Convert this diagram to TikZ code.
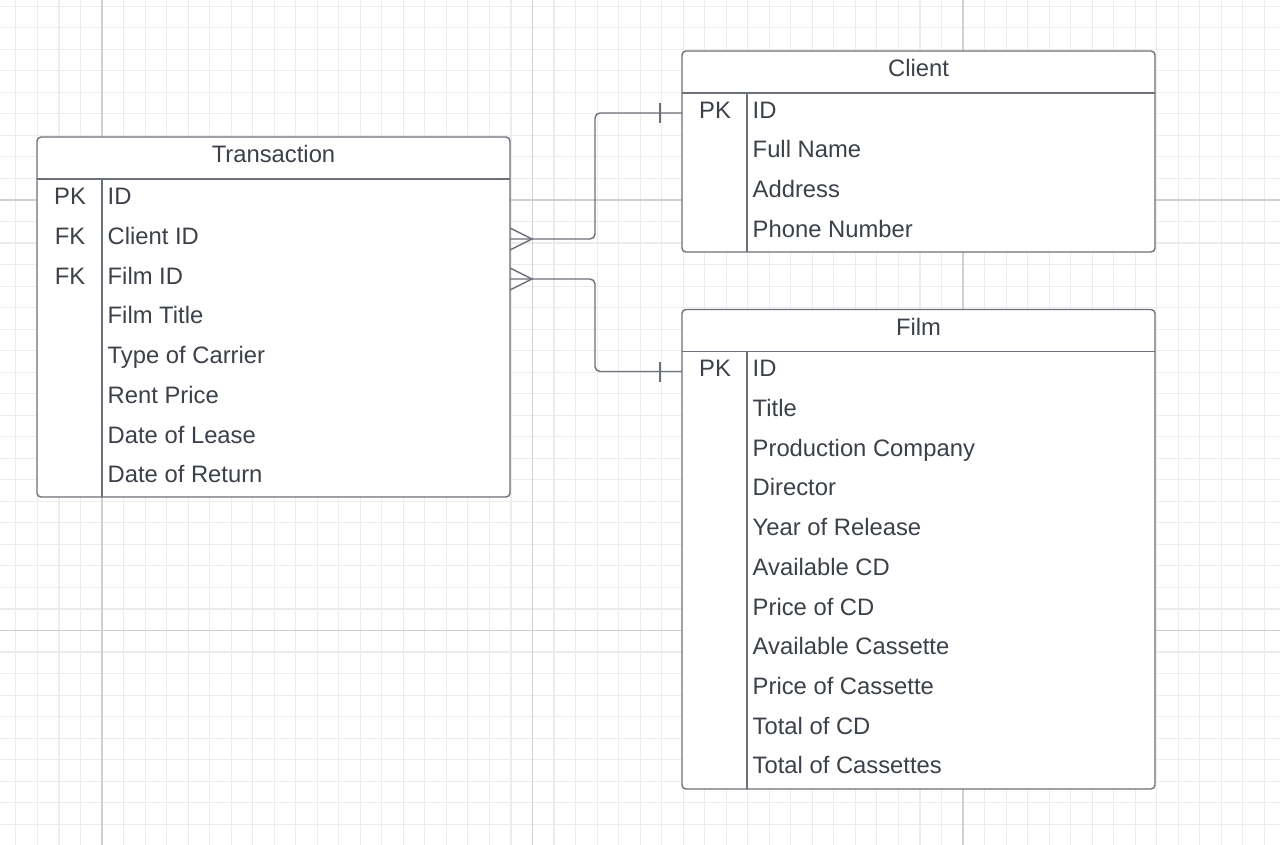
\documentclass[tikz,border=0pt]{standalone}
\usepackage{fontspec}
\setmainfont{Liberation Sans}
\definecolor{txt}{RGB}{60,64,72}
\definecolor{edge}{RGB}{108,112,120}
\definecolor{gridminor}{RGB}{236,236,236}
\definecolor{gridmajor}{RGB}{208,208,208}
\begin{document}
\begin{tikzpicture}[x=1pt,y=-1pt,
  tbl/.style={draw=edge, line width=1.4pt, fill=white, rounded corners=4pt, inner sep=0pt, outer sep=0pt, anchor=north west},
  sep/.style={draw=edge, line width=1.4pt},
  fld/.style={anchor=base west, inner sep=0pt, text=txt, font=\fontsize{23.8}{28}\selectfont},
  key/.style={anchor=base, inner sep=0pt, text=txt, font=\fontsize{23.8}{28}\selectfont},
  ttl/.style={anchor=base, inner sep=0pt, text=txt, font=\fontsize{23.8}{28}\selectfont},
  conn/.style={draw=edge, line width=1.4pt},
  gminor/.style={draw=gridminor, line width=1.1pt},
  gmajor/.style={draw=gridmajor, line width=1.6pt}]
\useasboundingbox (0,0) rectangle (1280,845);
\clip (0,0) rectangle (1280,845);
\fill[white] (0,0) rectangle (1280,845);
% grid
\foreach \k in {-4,...,55} \draw[gminor] ({102+21.525*\k},0) -- ({102+21.525*\k},845);
\foreach \k in {-9,...,31} \draw[gminor] (0,{200+21.525*\k}) -- (1280,{200+21.525*\k});
\foreach \gx in {102,532.5,963} \draw[gmajor] (\gx,0) -- (\gx,845);
\foreach \gy in {200,630.5} \draw[gmajor] (0,\gy) -- (1280,\gy);

% Transaction table
\node[tbl, minimum width=473pt, minimum height=360pt] (trans) at (37,137) {};
\draw[sep] ([yshift=-42pt]trans.north west) -- ([yshift=-42pt]trans.north east);
\draw[sep] ([xshift=65pt,yshift=-42pt]trans.north west) -- ([xshift=65pt]trans.south west);
\node[ttl] (trans-title) at (273.5,162.8) {Transaction};
\node[key] (trans-k0) at (70,204.5) {PK};
\node[key] (trans-k1) at (70,244.25) {FK};
\node[key] (trans-k2) at (70,284) {FK};
\foreach \t [count=\i from 0] in {ID,Client ID,Film ID,Film Title,Type of Carrier,Rent Price,Date of Lease,Date of Return}
  \node[fld] (trans-f\i) at (107.5,{204.5+39.75*\i}) {\t};

% Client table
\node[tbl, minimum width=473pt, minimum height=201pt] (client) at (682,51) {};
\draw[sep] ([yshift=-42pt]client.north west) -- ([yshift=-42pt]client.north east);
\draw[sep] ([xshift=65pt,yshift=-42pt]client.north west) -- ([xshift=65pt]client.south west);
\node[ttl] (client-title) at (918.5,76.8) {Client};
\node[key] (client-k0) at (715,118.5) {PK};
\foreach \t [count=\i from 0] in {ID,Full Name,Address,Phone Number}
  \node[fld] (client-f\i) at (752.5,{118.5+39.5*\i}) {\t};

% Film table
\node[tbl, minimum width=473pt, minimum height=479.5pt] (film) at (682,309.5) {};
\draw[sep] ([yshift=-42pt]film.north west) -- ([yshift=-42pt]film.north east);
\draw[sep] ([xshift=65pt,yshift=-42pt]film.north west) -- ([xshift=65pt]film.south west);
\node[ttl] (film-title) at (918.5,335.2) {Film};
\node[key] (film-k0) at (715,376.8) {PK};
\foreach \t [count=\i from 0] in {ID,Title,Production Company,Director,Year of Release,Available CD,Price of CD,Available Cassette,Price of Cassette,Total of CD,Total of Cassettes}
  \node[fld] (film-f\i) at (752.5,{376.8+39.7*\i}) {\t};

% Connectors
\draw[conn, rounded corners=5pt] ([yshift=-102pt]trans.north east) -- ++(85,0) |- ([yshift=-62pt]client.north west);
\draw[conn] ([yshift=-91pt]trans.north east) -- ++(22,11) -- ([yshift=-113pt]trans.north east);
\draw[conn] ([xshift=-22pt,yshift=-52pt]client.north west) -- ++(0,20);

\draw[conn, rounded corners=5pt] ([yshift=-142pt]trans.north east) -- ++(85,0) |- ([yshift=-62pt]film.north west);
\draw[conn] ([yshift=-131pt]trans.north east) -- ++(22,11) -- ([yshift=-153pt]trans.north east);
\draw[conn] ([xshift=-22pt,yshift=-52pt]film.north west) -- ++(0,20);
\end{tikzpicture}
\end{document}
